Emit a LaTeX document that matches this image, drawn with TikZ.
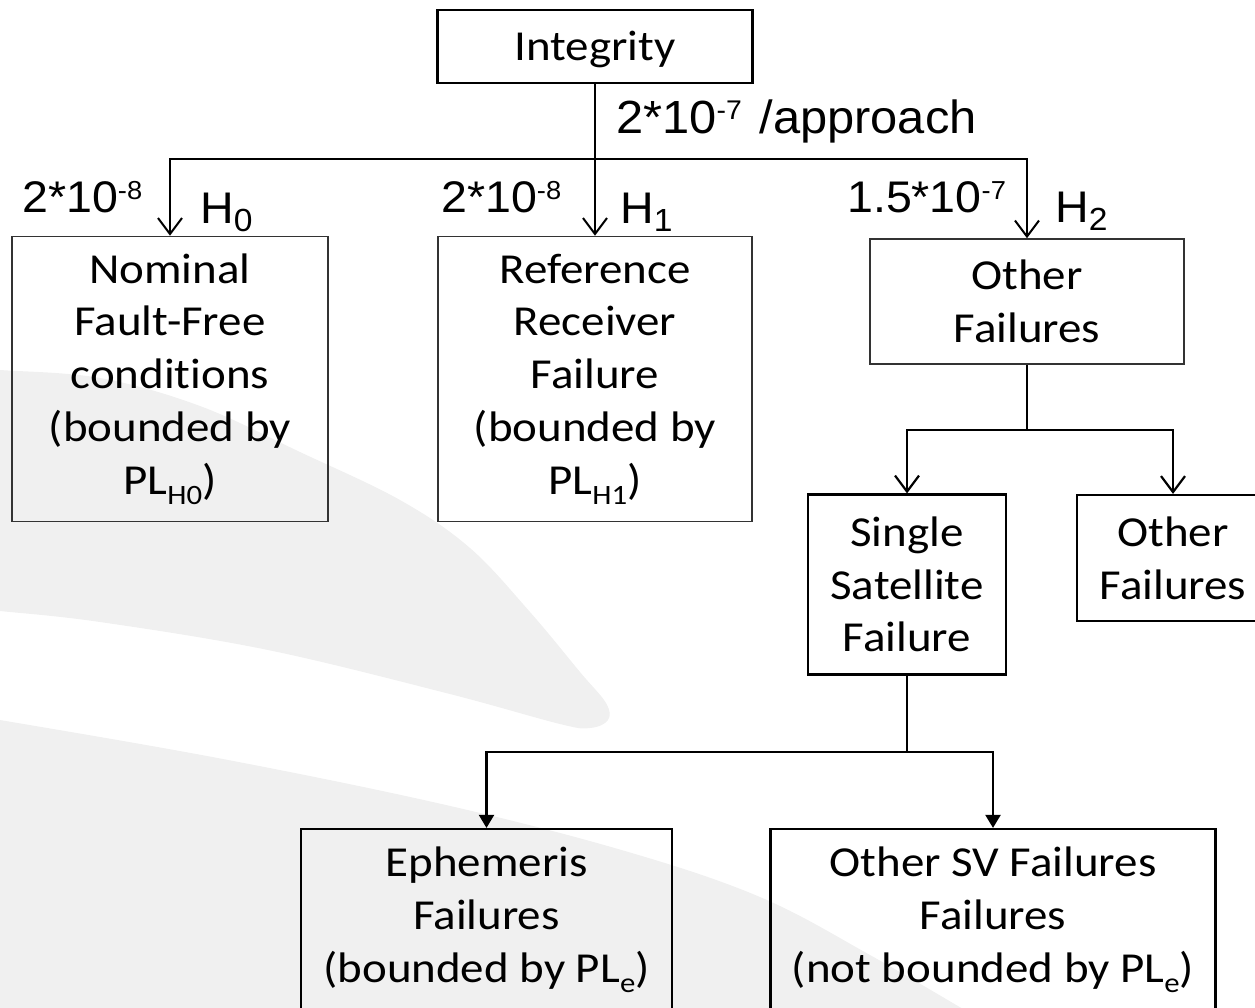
\documentclass[tikz,border=0pt]{standalone}
\usepackage{fontspec}
\setmainfont{Carlito}[FakeStretch=1.1, Ligatures={NoCommon}]
\newfontfamily\arialf{Liberation Sans}[FakeStretch=1.05]
\usetikzlibrary{arrows.meta}
\definecolor{swoosh}{RGB}{240,240,240}
\newcommand\supx[1]{\raisebox{12.5pt}{\fontsize{26}{26}\selectfont #1}}
\newcommand\supy[1]{\raisebox{13.5pt}{\fontsize{27}{27}\selectfont #1}}
\newcommand\subh[1]{\raisebox{-8.5pt}{\fontsize{32}{32}\selectfont #1}}
\newcommand\subc[1]{\raisebox{-10pt}{\fontsize{28}{28}\selectfont #1}}
\begin{document}
\begin{tikzpicture}[x=1pt,y=-1pt,
  box/.style={draw, rectangle, inner sep=0pt, align=center, font=\fontsize{42.7}{52.8}\selectfont},
  boxthin/.style={line width=1.6pt, draw=black!80},
  boxthick/.style={line width=2.2pt, draw=black},
  lab/.style={font=\arialf\fontsize{44.3}{50}\selectfont, inner sep=0pt, anchor=base west},
  conn/.style={line width=2pt, line join=miter},
  openarr/.style={conn, -{Straight Barb[length=16pt,width=24pt]}},
  fillarr/.style={conn, line width=2.2pt, -{Triangle[length=13pt,width=15pt]}}]
\useasboundingbox (0,0) rectangle (1255,1007);
\clip (0,0) rectangle (1255,1007);
% background swoosh
\fill[swoosh] plot[smooth cycle, tension=0.6] coordinates {(-30,368) (0,370) (100,378) (200,406) (300,452) (400,500) (470,548) (530,612) (580,672) (606,703) (608,720) (590,728) (560,724) (446,693) (268,650) (100,622) (0,611) (-30,608)};
\fill[swoosh] plot[smooth, tension=0.6] coordinates {(-30,716) (0,720) (223,759) (446,805) (625,851) (760,897) (870,955) (990,1025)} -- (990,1100) -- (-30,1100) -- cycle;
% boxes
\node[box, boxthick, minimum width=315pt, minimum height=73pt, text height=29pt, text depth=2pt] (integ) at (595,46.5) {Integrity};
\node[box, boxthin, minimum width=316pt, minimum height=285pt] (nominal) at (170,379) {Nominal\\Fault-Free\\conditions\\(bounded by\\PL\subc{H0})};
\node[box, boxthin, minimum width=314pt, minimum height=285pt] (refr) at (595,379) {Reference\\Receiver\\Failure\\(bounded by\\PL\subc{H1})};
\node[box, boxthin, minimum width=314pt, minimum height=125pt] (h2box) at (1027,301.5) {Other\\Failures};
\node[box, boxthick, minimum width=198pt, minimum height=180pt] (single) at (907,584.5) {Single\\Satellite\\Failure};
\node[box, boxthick, minimum width=192pt, minimum height=126pt] (otherf) at (1173,558) {Other\\Failures};
\node[box, boxthick, minimum width=371pt, minimum height=181pt] (ephem) at (486.5,919.5) {Ephemeris\\Failures\\(bounded by PL\subc{e})};
\node[box, boxthick, minimum width=445pt, minimum height=181pt] (othersv) at (993,919.5) {Other SV Failures\\Failures\\(not bounded by PL\subc{e})};
% connectors
\coordinate (j1) at (595,159);
\draw[conn] (integ.south) -- (j1);
\draw[openarr] (j1) -| (nominal.north);
\draw[openarr] (j1) -- (refr.north);
\draw[openarr] (j1) -| (h2box.north);
\coordinate (j2) at (1027,430);
\draw[conn, line width=2.2pt] (h2box.south) -- (j2);
\draw[openarr, line width=2.2pt] (j2) -| (single.north);
\draw[openarr, line width=2.2pt] (j2) -| (otherf.north);
\coordinate (j3) at (907,752);
\draw[conn, line width=2.2pt] (single.south) -- (j3);
\draw[fillarr] (j3) -| (ephem.north);
\draw[fillarr] (j3) -| (othersv.north);
% labels
\node[lab, font=\arialf\fontsize{46.5}{50}\selectfont] (lapp) at (616,133) {2*10\supy{-7} \hspace{4pt}/approach};
\node[lab] (l0) at (22,212) {2*10\supx{-8}};
\node[lab] (h0) at (200,223) {H\subh{0}};
\node[lab] (l1) at (441,212) {2*10\supx{-8}};
\node[lab] (h1) at (620,223) {H\subh{1}};
\node[lab] (l2) at (847,212) {1.5*10\supx{-7}};
\node[lab] (h2) at (1055,222) {H\subh{2}};
\end{tikzpicture}
\end{document}
